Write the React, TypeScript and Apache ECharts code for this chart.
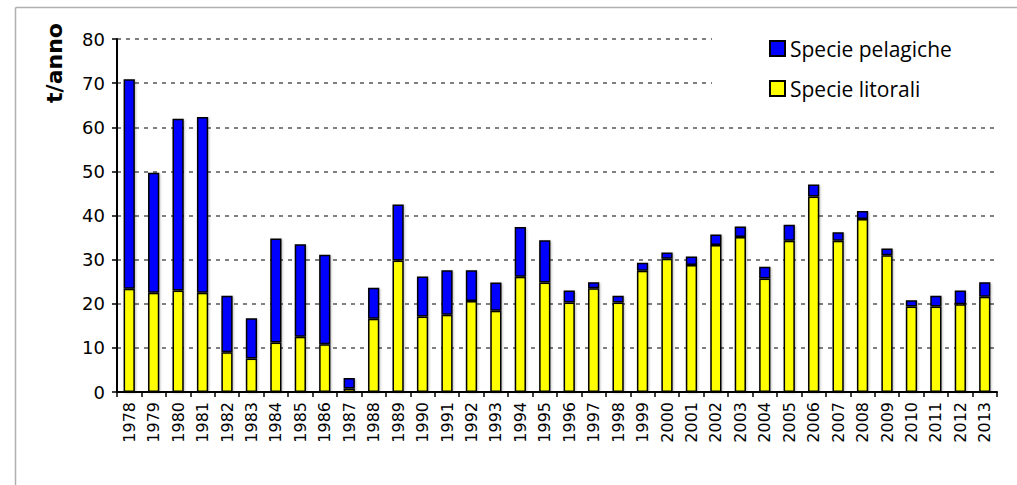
import React, { useEffect, useRef } from "react";
import * as echarts from "echarts";

const years = [
  "1978", "1979", "1980", "1981", "1982", "1983", "1984", "1985", "1986", "1987",
  "1988", "1989", "1990", "1991", "1992", "1993", "1994", "1995", "1996", "1997",
  "1998", "1999", "2000", "2001", "2002", "2003", "2004", "2005", "2006", "2007",
  "2008", "2009", "2010", "2011", "2012", "2013",
];

const litorali = [
  23.4, 22.5, 23.0, 22.5, 9.0, 7.6, 11.2, 12.5, 10.8, 0.8,
  16.6, 29.8, 17.1, 17.5, 20.6, 18.4, 26.1, 24.8, 20.3, 23.5,
  20.3, 27.5, 30.2, 28.8, 33.3, 35.1, 25.7, 34.3, 44.3, 34.3,
  39.2, 31.0, 19.4, 19.4, 19.9, 21.6,
];

const pelagiche = [
  47.5, 27.2, 38.9, 39.8, 12.8, 9.1, 23.6, 21.0, 20.3, 2.4,
  7.0, 12.7, 9.1, 10.1, 7.0, 6.4, 11.3, 9.6, 2.7, 1.4,
  1.5, 1.8, 1.4, 1.9, 2.4, 2.4, 2.7, 3.6, 2.7, 1.9,
  1.8, 1.5, 1.4, 2.4, 3.1, 3.3,
];

const yTicks = { min: 0, max: 80, interval: 10 };

export default function App() {
  const ref = useRef<HTMLDivElement>(null);
  useEffect(() => {
    document.body.style.margin = "0";
    if (!ref.current) return;
    const chart = echarts.init(ref.current, undefined, { renderer: "svg" });
    const barStyle = (color: string) => ({
      color,
      borderColor: "#000",
      borderWidth: 1.5,
      shadowColor: "rgba(0,0,0,0.25)",
      shadowBlur: 2,
      shadowOffsetX: 1,
      shadowOffsetY: 1,
    });
    chart.setOption({
      animation: false,
      backgroundColor: "#fff",
      grid: { left: 117, right: 20, top: 39, bottom: 93, containLabel: false },
      legend: {
        orient: "vertical",
        left: 712,
        top: 22,
        padding: [16, 60, 16, 57],
        backgroundColor: "#fff",
        icon: "rect",
        itemWidth: 15,
        itemHeight: 15,
        itemGap: 19,
        data: ["Specie pelagiche", "Specie litorali"],
        textStyle: { fontFamily: "Open Sans", fontSize: 21, color: "#000" },
        z: 10,
      },
      xAxis: {
        type: "category",
        data: years,
        boundaryGap: true,
        axisLine: { lineStyle: { color: "#000", width: 2 } },
        axisTick: { show: true, length: 5, lineStyle: { color: "#000", width: 1.5 } },
        axisLabel: {
          rotate: 90,
          interval: 0,
          margin: 10,
          fontFamily: "DejaVu Sans",
          fontSize: 16,
          color: "#000",
        },
      },
      yAxis: {
        type: "value",
        min: yTicks.min,
        max: yTicks.max,
        interval: yTicks.interval,
        axisLine: { show: true, lineStyle: { color: "#000", width: 2 } },
        axisTick: { show: true, length: 5, lineStyle: { color: "#000", width: 1.5 } },
        axisLabel: { fontFamily: "DejaVu Sans", fontSize: 18, color: "#000", margin: 12 },
        splitLine: { lineStyle: { color: "#808080", width: 2, type: [4, 5] } },
      },
      series: [
        {
          name: "Specie litorali",
          type: "bar",
          stack: "tot",
          data: litorali,
          barWidth: "46%",
          itemStyle: barStyle("#ffff00"),
        },
        {
          name: "Specie pelagiche",
          type: "bar",
          stack: "tot",
          data: pelagiche,
          barWidth: "46%",
          itemStyle: barStyle("#0000ff"),
        },
      ],
      graphic: [
        { type: "line", shape: { x1: 15.5, y1: 7.5, x2: 1017, y2: 7.5 }, style: { stroke: "#b0b0b0", lineWidth: 1.5 } },
        { type: "line", shape: { x1: 15.5, y1: 7.5, x2: 15.5, y2: 485 }, style: { stroke: "#b0b0b0", lineWidth: 1.5 } },
        {
          type: "text",
          x: 54,
          y: 63,
          rotation: Math.PI / 2,
          style: {
            text: "t/anno",
            fontFamily: "DejaVu Sans",
            fontWeight: "bold",
            fontSize: 22,
            fill: "#000",
            align: "center",
            verticalAlign: "middle",
          },
        },
      ],
    });
    return () => chart.dispose();
  }, []);
  return <div ref={ref} style={{ width: 1017, height: 485 }} />;
}
